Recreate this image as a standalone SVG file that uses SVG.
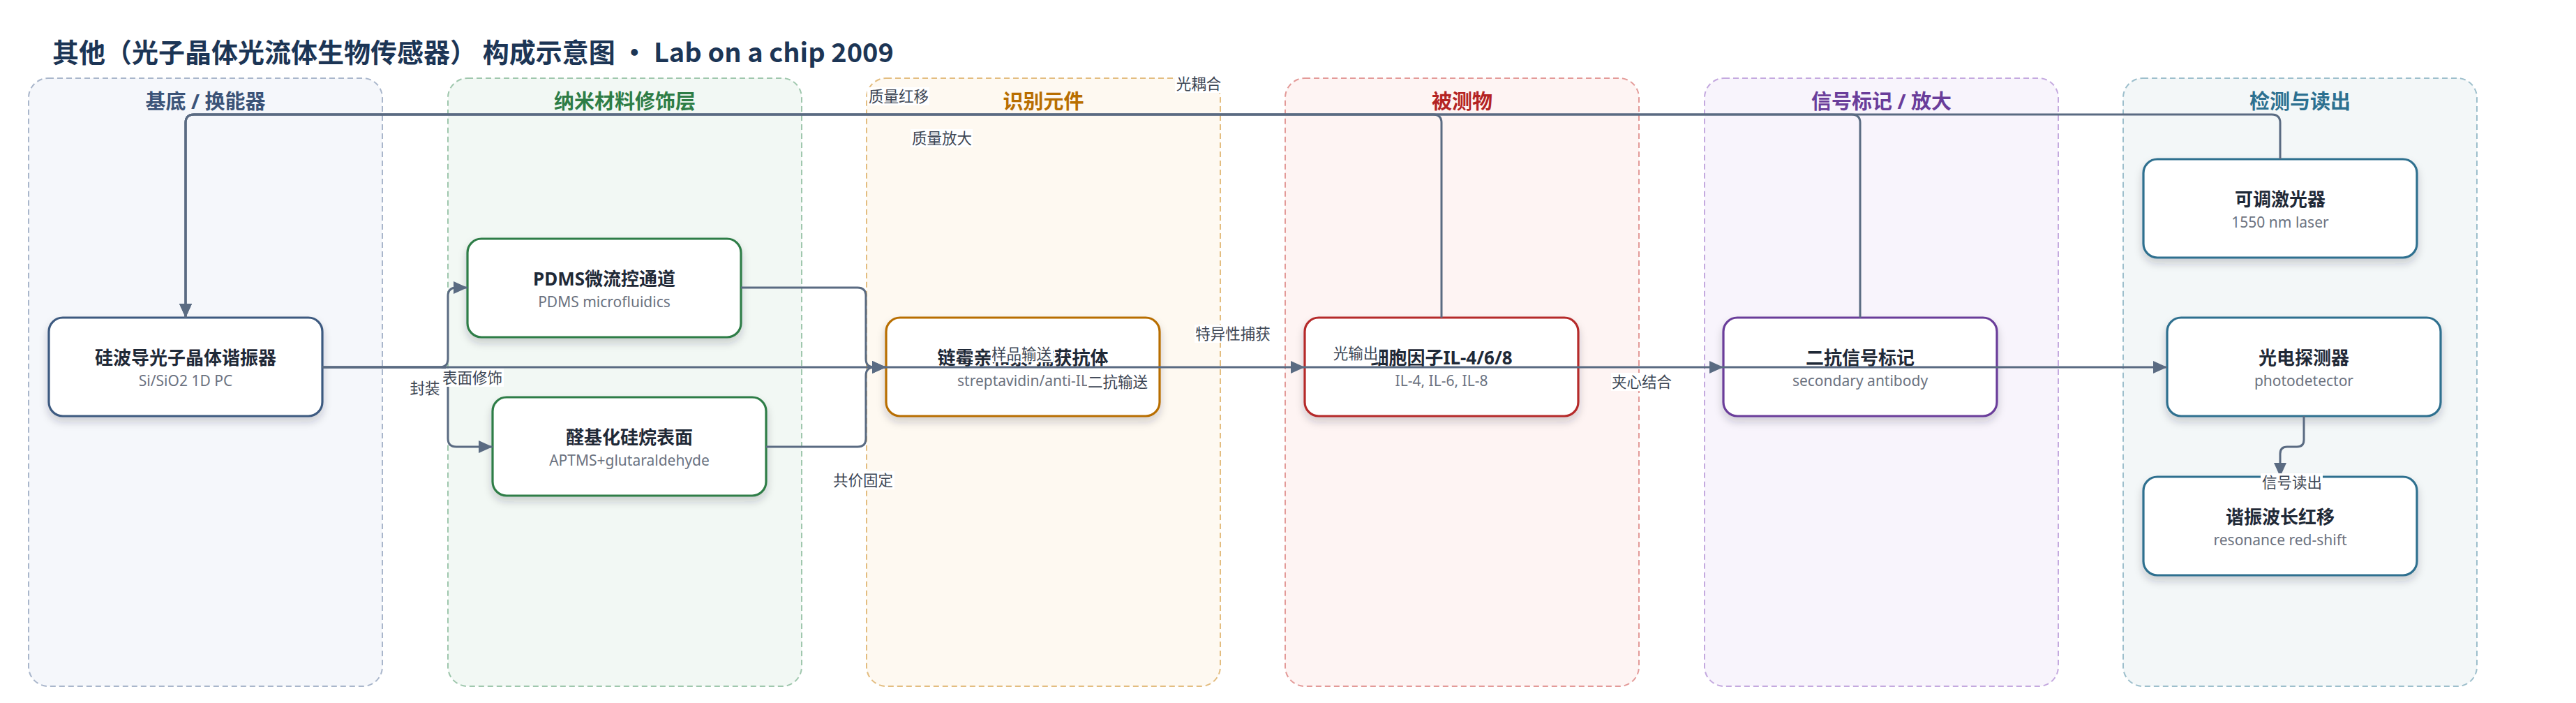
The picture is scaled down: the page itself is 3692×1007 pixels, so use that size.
<svg xmlns="http://www.w3.org/2000/svg" width="3692" height="1007" viewBox="0 0 3692 1007">
<defs>
<style>
.title{font-family:'Noto Sans CJK SC','Noto Sans',sans-serif;font-weight:700;font-size:38px;fill:#1c3555}
.lane{stroke-width:2;stroke-dasharray:8 5}
.lanelbl{font-family:'Noto Sans','Noto Sans CJK SC',sans-serif;font-weight:700;font-size:29px;text-anchor:middle}
.box{fill:#fff;stroke-width:3.2;filter:url(#sh)}
.nt{font-family:'Noto Sans','Noto Sans CJK SC',sans-serif;font-weight:700;font-size:26px;fill:#1f2937;text-anchor:middle}
.ns{font-family:'Noto Sans','Noto Sans CJK SC',sans-serif;font-size:21px;fill:#6b7280;text-anchor:middle}
.edge{fill:none;stroke:#5a6b82;stroke-width:3}
.lbl{font-family:'Noto Sans','Noto Sans CJK SC',sans-serif;font-size:21.5px;fill:#3d4654;text-anchor:middle}
.lblbg{fill:#fff}
</style>
<filter id="sh" x="-10%" y="-20%" width="120%" height="150%">
<feDropShadow dx="0" dy="7" stdDeviation="6" flood-color="#1f2937" flood-opacity="0.2"/>
</filter>
<marker id="arr" markerUnits="userSpaceOnUse" markerWidth="20" markerHeight="18" refX="20" refY="9" orient="auto">
<path d="M0,0 L20,9 L0,18 z" fill="#5a6b82"/>
</marker>
</defs>
<rect width="3692" height="1007" fill="#fff"/>
<text class="title" x="75" y="89">其他（光子晶体光流体生物传感器） 构成示意图 · Lab on a chip 2009</text>

<g id="lanes">
<g id="lane-substrate"><rect class="lane" x="41" y="112" width="507" height="871" rx="28" fill="#f5f7fb" stroke="#a9b6cb"/><text class="lanelbl" x="294.5" y="156" fill="#3b5378">基底 / 换能器</text></g>
<g id="lane-nano"><rect class="lane" x="642" y="112" width="507" height="871" rx="28" fill="#f2f8f4" stroke="#9fc7ad"/><text class="lanelbl" x="895.5" y="156" fill="#2e7d46">纳米材料修饰层</text></g>
<g id="lane-recog"><rect class="lane" x="1242" y="112" width="507" height="871" rx="28" fill="#fef9f1" stroke="#e3bd80"/><text class="lanelbl" x="1495.5" y="156" fill="#b86e00">识别元件</text></g>
<g id="lane-analyte"><rect class="lane" x="1842" y="112" width="507" height="871" rx="28" fill="#fef4f3" stroke="#e39a98"/><text class="lanelbl" x="2095.5" y="156" fill="#b42323">被测物</text></g>
<g id="lane-label"><rect class="lane" x="2443" y="112" width="507" height="871" rx="28" fill="#f8f4fc" stroke="#c4a9df"/><text class="lanelbl" x="2696.5" y="156" fill="#6a3d9a">信号标记 / 放大</text></g>
<g id="lane-detect"><rect class="lane" x="3043" y="112" width="507" height="871" rx="28" fill="#f3f7f8" stroke="#9dbfcc"/><text class="lanelbl" x="3296.5" y="156" fill="#2c7090">检测与读出</text></g>
</g>

<g id="nodes">
<g id="n-resonator"><rect class="box" x="70" y="455" width="392" height="141" rx="20" stroke="#3d5a80"/><text class="nt" x="266" y="521.5">硅波导光子晶体谐振器</text><text class="ns" x="266" y="553">Si/SiO2 1D PC</text></g>
<g id="n-pdms"><rect class="box" x="670" y="342" width="392" height="141" rx="20" stroke="#2e7d46"/><text class="nt" x="866" y="408.5">PDMS微流控通道</text><text class="ns" x="866" y="440">PDMS microfluidics</text></g>
<g id="n-silane"><rect class="box" x="706" y="569" width="392" height="141" rx="20" stroke="#2e7d46"/><text class="nt" x="902" y="635.5">醛基化硅烷表面</text><text class="ns" x="902" y="667">APTMS+glutaraldehyde</text></g>
<g id="n-antibody"><rect class="box" x="1270" y="455" width="392" height="141" rx="20" stroke="#b86e00"/><text class="nt" x="1466" y="521.5">链霉亲和素/捕获抗体</text><text class="ns" x="1466" y="553">streptavidin/anti-IL</text></g>
<g id="n-cytokine"><rect class="box" x="1870" y="455" width="392" height="141" rx="20" stroke="#b52a2a"/><text class="nt" x="2066" y="521.5">细胞因子IL-4/6/8</text><text class="ns" x="2066" y="553">IL-4, IL-6, IL-8</text></g>
<g id="n-secondary"><rect class="box" x="2470" y="455" width="392" height="141" rx="20" stroke="#6a3d9a"/><text class="nt" x="2666" y="521.5">二抗信号标记</text><text class="ns" x="2666" y="553">secondary antibody</text></g>
<g id="n-laser"><rect class="box" x="3072" y="228" width="392" height="141" rx="20" stroke="#2f6f8f"/><text class="nt" x="3268" y="294.5">可调激光器</text><text class="ns" x="3268" y="326">1550 nm laser</text></g>
<g id="n-detector"><rect class="box" x="3106" y="455" width="392" height="141" rx="20" stroke="#2f6f8f"/><text class="nt" x="3302" y="521.5">光电探测器</text><text class="ns" x="3302" y="553">photodetector</text></g>
<g id="n-shift"><rect class="box" x="3072" y="683" width="392" height="141" rx="20" stroke="#2f6f8f"/><text class="nt" x="3268" y="749.5">谐振波长红移</text><text class="ns" x="3268" y="781">resonance red-shift</text></g>
</g>

<g id="connectors">
<path class="edge" marker-end="url(#arr)" d="M462 526 H630 Q642 526 642 514 V424 Q642 412 654 412 H670"/>
<path class="edge" marker-end="url(#arr)" d="M462 526 H630 Q642 526 642 538 V628 Q642 640 654 640 H706"/>
<path class="edge" marker-end="url(#arr)" d="M1062 412 H1229 Q1241 412 1241 424 V514 Q1241 526 1253 526 H1270"/>
<path class="edge" marker-end="url(#arr)" d="M1098 640 H1229 Q1241 640 1241 628 V538 Q1241 526 1253 526 H1270"/>
<path class="edge" marker-end="url(#arr)" d="M462 526 H1270"/>
<path class="edge" marker-end="url(#arr)" d="M1270 526 H1870"/>
<path class="edge" marker-end="url(#arr)" d="M1870 526 H2470"/>
<path class="edge" marker-end="url(#arr)" d="M2470 526 H3106"/>
<path class="edge" marker-end="url(#arr)" d="M2066 455 V176 Q2066 164 2054 164 H278 Q266 164 266 176 V455"/>
<path class="edge" marker-end="url(#arr)" d="M2666 455 V176 Q2666 164 2654 164 H278 Q266 164 266 176 V455"/>
<path class="edge" marker-end="url(#arr)" d="M3268 228 V176 Q3268 164 3256 164 H278 Q266 164 266 176 V455"/>
<path class="edge" marker-end="url(#arr)" d="M3302 596 V630 Q3302 640 3292 640 H3278 Q3268 640 3268 650 V683"/>

<g id="edge-labels">
<rect class="lblbg" x="586" y="543" width="46" height="26"/><text class="lbl" x="609" y="563.5">封装</text>
<rect class="lblbg" x="633" y="528" width="89" height="26"/><text class="lbl" x="677" y="548.5">表面修饰</text>
<rect class="lblbg" x="1193" y="675" width="89" height="26"/><text class="lbl" x="1237" y="695.5">共价固定</text>
<rect class="lblbg" x="1420" y="494" width="89" height="25"/><text class="lbl" x="1464" y="514.5">样品输送</text>
<rect class="lblbg" x="1558" y="534" width="89" height="26"/><text class="lbl" x="1602" y="554.5">二抗输送</text>
<rect class="lblbg" x="1712" y="465" width="110" height="26"/><text class="lbl" x="1767" y="485.5">特异性捕获</text>
<rect class="lblbg" x="1910" y="494" width="67" height="25"/><text class="lbl" x="1943" y="513.5">光输出</text>
<rect class="lblbg" x="2309" y="534" width="89" height="26"/><text class="lbl" x="2353" y="554.5">夹心结合</text>
<rect class="lblbg" x="1243" y="125" width="89" height="26"/><text class="lbl" x="1288" y="145.5">质量红移</text>
<rect class="lblbg" x="1684" y="107" width="68" height="26"/><text class="lbl" x="1718" y="127.5">光耦合</text>
<rect class="lblbg" x="1305" y="185" width="89" height="26"/><text class="lbl" x="1350" y="205.5">质量放大</text>
<rect class="lblbg" x="3240" y="678" width="89" height="26"/><text class="lbl" x="3285" y="698.5">信号读出</text>
</g>
</g>
</svg>
